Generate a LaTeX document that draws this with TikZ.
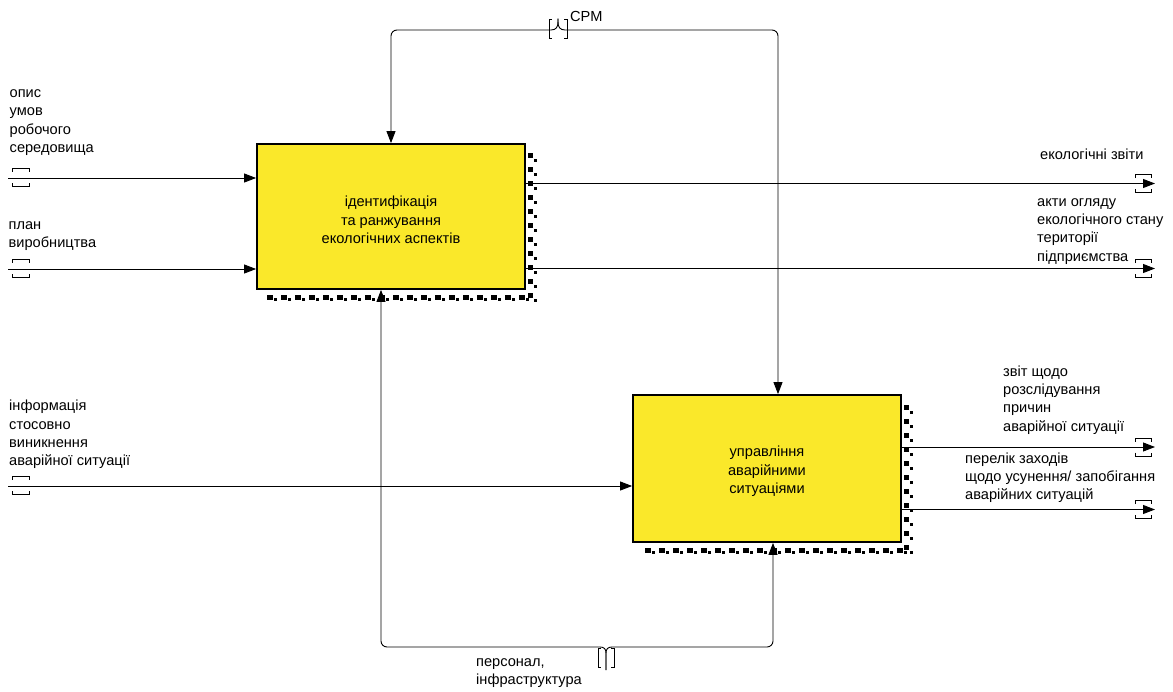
\documentclass[tikz,border=0pt]{standalone}
\usepackage{fontspec}
\setmainfont{Liberation Sans}
\usetikzlibrary{arrows.meta}
\definecolor{boxyellow}{RGB}{250,232,42}
\begin{document}
\begin{tikzpicture}[x=1pt,y=-1pt,
  lbl/.style={font=\fontsize{14.6}{18.4}\selectfont, inner sep=0pt, align=left, execute at begin node=\strut},
  proc/.style={draw=black, line width=1.8pt, fill=boxyellow, inner sep=0pt},
  conn/.style={line width=0.9pt, draw=black},
  arr/.style={conn, -{Triangle[length=12pt,width=9pt]}},
  tmark/.style={line width=0.8pt, draw=black},
  lmark/.pic={\draw[line width=0.8pt] (4.5,-6.5) -- (4.5,-9.5) -- (21,-9.5) -- (21,-6.5);
              \draw[line width=0.8pt] (4.5,5) -- (4.5,8.5) -- (21,8.5) -- (21,5);},
  rmark/.pic={\draw[line width=0.8pt] (-19.5,-5.5) -- (-19.5,-9) -- (-3.5,-9) -- (-3.5,-5.5);
              \draw[line width=0.8pt] (-19.5,5.5) -- (-19.5,9) -- (-3.5,9) -- (-3.5,5.5);}
]
\useasboundingbox (0,0) rectangle (1173,691);

% ---- shadows (checkered) ----
\foreach \y in {153,167,...,297} {
  \fill[black] (527.5,\y) rectangle ++(5,5);
  \fill[black] (533.5,\y+5.5) rectangle ++(3,3.5);
}
\foreach \x in {267,281,...,525} {
  \fill[black] (\x,294.5) rectangle ++(5.5,5);
  \fill[black] (\x+6.5,297.5) rectangle ++(3.5,3);
}
\foreach \y in {405,419,...,547} {
  \fill[black] (903.5,\y) rectangle ++(5,5);
  \fill[black] (909.5,\y+5.5) rectangle ++(3,3.5);
}
\foreach \x in {645,659,...,900} {
  \fill[black] (\x,547.5) rectangle ++(5.5,5);
  \fill[black] (\x+6.5,550.5) rectangle ++(3.5,3);
}

% ---- boxes ----
\node[proc, minimum width=268pt, minimum height=145pt] (A1) at (391,216.5) {};
\node[proc, minimum width=268pt, minimum height=147pt] (A2) at (767,468.5) {};
\node[lbl, align=center, anchor=center] (A1t) at ([yshift=-6pt]A1.center)
  {ідентифікація\\та ранжування\\екологічних аспектів\strut};
\node[lbl, align=center, anchor=center] (A2t) at ([yshift=-4pt]A2.center)
  {управління\\аварійними\\ситуаціями\strut};

% ---- labels ----
\node[lbl, anchor=north west] (t1) at (9.5,89.5) {опис\\умов\\робочого\\середовища};
\node[lbl, anchor=north west] (t2) at (8.5,221.5) {план\\виробництва};
\node[lbl, anchor=north west] (t3) at (9,400) {інформація\\стосовно\\виникнення\\аварійної ситуації};
\node[lbl, anchor=north west] (t4) at (570,8.5) {СРМ};
\node[lbl, anchor=north west] (t5) at (1040,146.4) {екологічні звіти};
\node[lbl, anchor=north west] (t6) at (1037,198) {акти огляду\\екологічного стану\\території\\підприємства};
\node[lbl, anchor=north west] (t7) at (1003,365.4) {звіт щодо\\розслідування\\причин\\аварійної ситуації};
\node[lbl, anchor=north west] (t8) at (965,452.4) {перелік заходів\\щодо усунення/ запобігання\\аварійних ситуацій};
\node[lbl, anchor=north west] (t9) at (476,658.5) {персонал,\\інфраструктура};

% ---- inputs ----
\coordinate (i1) at (8,178);
\coordinate (i2) at (8,269);
\coordinate (i3) at (8,486);
\draw[arr] (i1) -- (i1 -| A1.west);
\draw[arr] (i2) -- (i2 -| A1.west);
\draw[arr] (i3) -- (i3 -| A2.west);
\pic at (i1) {lmark};
\pic at (i2) {lmark};
\pic at (i3) {lmark};

% ---- outputs ----
\coordinate (o1) at (1155,183.5);
\coordinate (o2) at (1155,268.5);
\coordinate (o3) at (1155,447);
\coordinate (o4) at (1155,509.5);
\draw[arr] (o1 -| A1.east) -- (o1);
\draw[arr] (o2 -| A1.east) -- (o2);
\draw[arr] (o3 -| A2.east) -- (o3);
\draw[arr] (o4 -| A2.east) -- (o4);
\pic at (o1) {rmark};
\pic at (o2) {rmark};
\pic at (o3) {rmark};
\pic at (o4) {rmark};

% ---- control (CPM) ----
\coordinate (cpm) at (558,18.5);
\coordinate (cL) at (391,30);
\coordinate (cR) at (778,30);
\draw[arr] (cpm) -- (558,22) .. controls (558,27) and (556,30) .. (551,30)
  [rounded corners=6pt] -- (cL) -- (cL |- A1.north);
\draw[arr] (cpm) -- (558,22) .. controls (558,27) and (560,30) .. (565,30)
  [rounded corners=6pt] -- (cR) -- (cR |- A2.north);
\draw[tmark] (552,19.5) -- (549,19.5) -- (549,38) -- (552,38);
\draw[tmark] (564,19.5) -- (567,19.5) -- (567,38) -- (564,38);

% ---- mechanism ----
\coordinate (mech) at (606,670);
\coordinate (mL) at (381,647);
\coordinate (mR) at (773,647);
\draw[arr] (mech) -- (606,653) .. controls (606,649) and (604,647) .. (600,647)
  [rounded corners=6pt] -- (mL) -- (mL |- A1.south);
\draw[arr] (mech) -- (606,653) .. controls (606,649) and (608,647) .. (612,647)
  [rounded corners=6pt] -- (mR) -- (mR |- A2.south);
\draw[tmark] (601,648.5) -- (598,648.5) -- (598,667) -- (601,667);
\draw[tmark] (611,648.5) -- (614,648.5) -- (614,667) -- (611,667);
\end{tikzpicture}
\end{document}
